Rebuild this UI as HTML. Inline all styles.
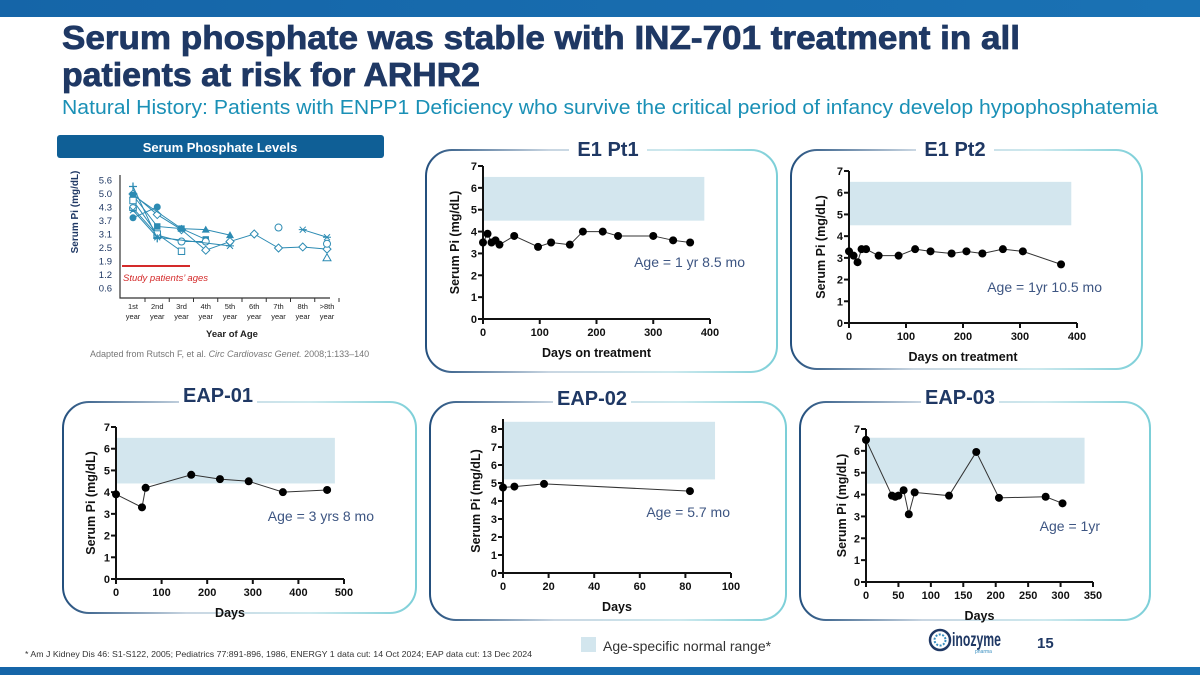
<!DOCTYPE html>
<html><head><meta charset="utf-8"><style>
html,body{margin:0;padding:0;background:#fff;}
svg{display:block;font-family:"Liberation Sans",sans-serif;}
</style></head><body>
<svg id="s" width="1200" height="675" viewBox="0 0 1200 675" xmlns="http://www.w3.org/2000/svg">
<defs>
<linearGradient id="cg" x1="0" y1="0" x2="1" y2="0"><stop offset="0" stop-color="#24507e"/><stop offset="0.35" stop-color="#c9d6e2"/><stop offset="0.7" stop-color="#cde9ee"/><stop offset="1" stop-color="#7ccfd8"/></linearGradient>
<linearGradient id="bar" x1="0" y1="0" x2="1" y2="0"><stop offset="0" stop-color="#1565a8"/><stop offset="1" stop-color="#1a72b4"/></linearGradient>
</defs>
<rect x="0" y="0" width="1200" height="17" fill="url(#bar)"/>
<rect x="0" y="667" width="1200" height="8" fill="url(#bar)"/>
<text x="62" y="49" font-size="33" font-weight="bold" fill="#1f3864" stroke="#1f3864" stroke-width="0.8" textLength="958" lengthAdjust="spacingAndGlyphs">Serum phosphate was stable with INZ-701 treatment in all</text>
<text x="62" y="86" font-size="33" font-weight="bold" fill="#1f3864" stroke="#1f3864" stroke-width="0.8" textLength="418" lengthAdjust="spacingAndGlyphs">patients at risk for ARHR2</text>
<text x="62" y="114" font-size="20" fill="#1a90b6" textLength="1096" lengthAdjust="spacingAndGlyphs">Natural History: Patients with ENPP1 Deficiency who survive the critical period of infancy develop hypophosphatemia</text>
<rect x="57" y="135" width="327" height="23" rx="3" fill="#0f5f96"/>
<text x="220" y="152" font-size="13" font-weight="bold" fill="#fff" text-anchor="middle">Serum Phosphate Levels</text>
<g id="nh"></g>
<text x="90" y="357" font-size="9" fill="#777">Adapted from Rutsch F, et al. <tspan font-style="italic">Circ Cardiovasc Genet.</tspan> 2008;1:133–140</text>
<g id="charts"></g>
<rect x="581" y="637" width="15" height="15" fill="#d3e6ee"/>
<text x="603" y="651" font-size="14" fill="#333">Age-specific normal range*</text>
<g>
<circle cx="940" cy="640" r="10" fill="#fff" stroke="#1f3864" stroke-width="2.5"/>
<circle cx="940" cy="640" r="5.5" fill="none" stroke="#3a8fc0" stroke-width="2" stroke-dasharray="2 1.5"/>
<text x="952" y="646" font-size="19" font-weight="bold" fill="#1f3864" textLength="49" lengthAdjust="spacingAndGlyphs">inozyme</text>
<text x="975" y="653" font-size="5" fill="#3a8fc0">pharma</text>
</g>
<text x="1037" y="648" font-size="15" font-weight="bold" fill="#1f3864">15</text>
<text x="25" y="657" font-size="8.5" fill="#333" textLength="507" lengthAdjust="spacingAndGlyphs">* Am J Kidney Dis 46: S1-S122, 2005; Pediatrics 77:891-896, 1986, ENERGY 1 data cut: 14 Oct 2024; EAP data cut: 13 Dec 2024</text>
</svg>
<script>
// ---- Natural history data ----
const nhCategories = ["1st","2nd","3rd","4th","5th","6th","7th","8th",">8th"];
const nhTicks = [5.6,5.0,4.3,3.7,3.1,2.5,1.9,1.2,0.6];
const nhDiamondX = [0,1,2,3,4,5,6,7,8];
const nhDiamondY = [4.95,4.0,3.3,2.35,2.75,3.1,2.45,2.5,2.4];
const nhFilledCircleX = [0,1];
const nhFilledCircleY = [3.85,4.35];
const nhFilledSquareX = [0,1,2,3];
const nhFilledSquareY = [4.9,3.45,3.35,2.85];
const nhFilledTriX = [0,2,3,4];
const nhFilledTriY = [4.9,3.35,3.3,3.05];
const nhOpenCircleX = [0,1,2,3];
const nhOpenCircleY = [4.3,3.05,2.75,2.75];
const nhOpenSquareX = [0,1,2];
const nhOpenSquareY = [4.65,3.1,2.3];
const nhStarX = [0,1,4];
const nhStarY = [4.2,2.95,2.55];
const nhStar2X = [7,8];
const nhStar2Y = [3.3,2.95];
const nhPlusX = [0,1];
const nhPlusY = [5.3,2.9];
const nhSoloCircleX = [6,8];
const nhSoloCircleY = [3.4,2.65];
const nhOpenTriX = [8];
const nhOpenTriY = [2.0];

// ---- Patient chart data ----
const e1p1Days = [0,8,15,22,29,55,97,120,153,176,211,238,300,335,365];
const e1p1Vals = [3.5,3.9,3.5,3.6,3.4,3.8,3.3,3.5,3.4,4.0,4.0,3.8,3.8,3.6,3.5];
const e1p1Range = [4.5,6.5,390];
const e1p2Days = [0,8,15,22,30,52,87,116,143,180,206,234,270,305,372];
const e1p2Vals = [3.3,3.1,2.8,3.4,3.4,3.1,3.1,3.4,3.3,3.2,3.3,3.2,3.4,3.3,2.7];
const e1p2Range = [4.5,6.5,390];
const eap1Days = [0,57,65,165,228,291,366,463];
const eap1Vals = [3.9,3.3,4.2,4.8,4.6,4.5,4.0,4.1];
const eap1Range = [4.4,6.5,480];
const eap2Days = [0,5,18,82];
const eap2Vals = [4.75,4.8,4.95,4.55];
const eap2Range = [5.2,8.4,93];
const eap3Days = [0,40,45,50,58,66,75,128,170,205,277,303];
const eap3Vals = [6.5,3.95,3.9,3.95,4.2,3.1,4.1,3.95,5.95,3.85,3.9,3.6];
const eap3Range = [4.5,6.6,337];

const NS = "http://www.w3.org/2000/svg";
function mk(tag, attrs, parent){const e=document.createElementNS(NS,tag);for(const k in attrs)e.setAttribute(k,attrs[k]);parent.appendChild(e);return e;}

// ---- Natural history chart ----
(function(){
const g = document.getElementById('nh');
const x0=133, dx=24.25, yTop=180, yBot=288;
const sx = i => x0 + i*dx;
const sy = v => yTop + (5.6 - v) / 5.0 * (yBot - yTop);
const C = "#2c8bb3";
let ax = mk('path',{d:'M120 175 V298 H330',stroke:'#333','stroke-width':1.2,fill:'none'},g);


nhTicks.forEach((t,i)=>{
  const y = yTop + i*(yBot-yTop)/(nhTicks.length-1);
  const tx = mk('text',{x:112,y:y+3.5,'font-size':9.5,fill:'#1f3864','text-anchor':'end'},g);
  tx.textContent = t.toFixed(1);
  
  
});
nhCategories.forEach((c,i)=>{
  const x = sx(i);
  mk('line',{x1:x+12,y1:298,x2:x+12,y2:302,stroke:'#333'},g);
  const t1 = mk('text',{x:x,y:309,'font-size':7.5,fill:'#222','text-anchor':'middle'},g);
  t1.textContent = c;
  
  
  const t2 = mk('text',{x:x,y:319,'font-size':7.5,fill:'#222','text-anchor':'middle'},g);
  t2.textContent = 'year';
});
const yl = mk('text',{x:0,y:0,'font-size':10,'font-weight':'bold',fill:'#1f3864','text-anchor':'middle',transform:'translate(78,212) rotate(-90)'},g);
yl.textContent='Serum Pi (mg/dL)';


const xl = mk('text',{x:232,y:337,'font-size':9.5,'font-weight':'bold',fill:'#222','text-anchor':'middle'},g);
xl.textContent='Year of Age';


const rl = mk('line',{x1:122,y1:266,x2:190,y2:266,stroke:'#d42a2a','stroke-width':2},g);


const rt = mk('text',{x:123,y:281,'font-size':9.5,'font-style':'italic',fill:'#d42a2a'},g);
rt.textContent='Study patients’ ages';


function marker(type,x,y){
  let e;
  if(type==='diamond') e=mk('path',{d:`M${x} ${y-4}L${x+4} ${y}L${x} ${y+4}L${x-4} ${y}Z`,fill:'#fff',stroke:C},g);
  else if(type==='fcircle') e=mk('circle',{cx:x,cy:y,r:3.5,fill:C},g);
  else if(type==='ocircle') e=mk('circle',{cx:x,cy:y,r:3.5,fill:'#fff',stroke:C},g);
  else if(type==='fsquare') e=mk('rect',{x:x-3.2,y:y-3.2,width:6.4,height:6.4,fill:C},g);
  else if(type==='osquare') e=mk('rect',{x:x-3.2,y:y-3.2,width:6.4,height:6.4,fill:'#fff',stroke:C},g);
  else if(type==='ftri') e=mk('path',{d:`M${x} ${y-4}L${x+4} ${y+3}L${x-4} ${y+3}Z`,fill:C},g);
  else if(type==='otri') e=mk('path',{d:`M${x} ${y-4}L${x+4} ${y+3}L${x-4} ${y+3}Z`,fill:'#fff',stroke:C},g);
  else if(type==='star') e=mk('path',{d:`M${x-4} ${y}H${x+4}M${x-3} ${y-3}L${x+3} ${y+3}M${x+3} ${y-3}L${x-3} ${y+3}`,stroke:C},g);
  else e=mk('path',{d:`M${x-4} ${y}H${x+4}M${x} ${y-4}V${y+4}`,stroke:C,'stroke-width':1.3},g);
  
  
}
function series(xs,ys,type,line){
  if(line && xs.length>1){
    const p = mk('polyline',{points:xs.map((x,i)=>sx(x)+','+sy(ys[i])).join(' '),fill:'none',stroke:C,'stroke-width':1},g);
    
    
  }
  xs.forEach((x,i)=>marker(type,sx(x),sy(ys[i])));
}
series(nhDiamondX,nhDiamondY,'diamond',true);
series(nhFilledCircleX,nhFilledCircleY,'fcircle',true);
series(nhFilledSquareX,nhFilledSquareY,'fsquare',true);
series(nhFilledTriX,nhFilledTriY,'ftri',true);
series(nhOpenCircleX,nhOpenCircleY,'ocircle',true);
series(nhOpenSquareX,nhOpenSquareY,'osquare',true);
series(nhStarX,nhStarY,'star',true);
series(nhStar2X,nhStar2Y,'star',true);
series(nhPlusX,nhPlusY,'plus',true);
series(nhSoloCircleX,nhSoloCircleY,'ocircle',false);
series(nhOpenTriX,nhOpenTriY,'otri',false);
})();

// ---- Patient charts ----
function drawChart(o, days, vals, range){
  const root = document.getElementById('charts');
  const g = mk('g',{},root);
  
  
  const card = mk('rect',{x:o.card[0],y:o.card[1],width:o.card[2]-o.card[0],height:o.card[3]-o.card[1],rx:26,fill:'none',stroke:'url(#cg)','stroke-width':2},g);
  
  
  const tw = o.title.length*11;
  mk('rect',{x:o.tx-tw/2-6,y:o.ty-22,width:tw+12,height:28,fill:'#fff'},g);
  const t = mk('text',{x:o.tx,y:o.ty,'font-size':20,'font-weight':'bold',fill:'#1f3864','text-anchor':'middle'},g);
  t.textContent = o.title;
  
  
  const sx = d => o.x0 + d/o.xmax*(o.x1-o.x0);
  const sy = v => o.y0 - v/o.ymax*(o.y0-o.y1);
  const band = mk('rect',{x:sx(0),y:sy(range[1]),width:sx(range[2])-sx(0),height:sy(range[0])-sy(range[1]),fill:'#d3e6ee'},g);
  
  
  const axp = mk('path',{d:`M${o.x0} ${o.ytop} V${o.y0} H${o.x1}`,stroke:'#111','stroke-width':2,fill:'none'},g);
  
  
  for(let v=0; v<=o.ymax; v++){
    const y=sy(v);
    mk('line',{x1:o.x0-5,y1:y,x2:o.x0,y2:y,stroke:'#111','stroke-width':2},g);
    const l = mk('text',{x:o.x0-6,y:y+4,'font-size':11,'font-weight':'bold',fill:'#111','text-anchor':'end'},g);
    l.textContent=v;
    
    
  }
  for(let d=0; d<=o.xmax; d+=o.xstep){
    const x=sx(d);
    mk('line',{x1:x,y1:o.y0,x2:x,y2:o.y0+5,stroke:'#111','stroke-width':2},g);
    const l = mk('text',{x:x,y:o.y0+17,'font-size':11,'font-weight':'bold',fill:'#111','text-anchor':'middle'},g);
    l.textContent=d;
    
    
  }
  const yl = mk('text',{x:0,y:0,'font-size':12.5,'font-weight':'bold',fill:'#111','text-anchor':'middle',transform:`translate(${o.ylx},${(o.y0+o.y1)/2}) rotate(-90)`},g);
  yl.textContent='Serum Pi (mg/dL)';
  
  
  const xl = mk('text',{x:(o.x0+o.x1)/2,y:o.y0+38,'font-size':12.5,'font-weight':'bold',fill:'#111','text-anchor':'middle'},g);
  xl.textContent=o.xlabel;
  
  
  const line = mk('polyline',{points:days.map((d,i)=>sx(d)+','+sy(vals[i])).join(' '),fill:'none',stroke:'#333','stroke-width':1},g);
  
  
  days.forEach((d,i)=>{
    const c = mk('circle',{cx:sx(d),cy:sy(vals[i]),r:4,fill:'#000'},g);
    
    
  });
  const a = mk('text',{x:o.ax,y:o.ay,'font-size':14,fill:'#3d5582','text-anchor':'end'},g);
  a.textContent=o.age;
  
  
}
drawChart({name:'e1-pt1-chart',title:'E1 Pt1',tx:608,ty:156,card:[426,150,777,372],x0:483,x1:710,y0:319,y1:166,ytop:166,ymax:7,xmax:400,xstep:100,ylx:459,xlabel:'Days on treatment',age:'Age = 1 yr 8.5 mo',ax:745,ay:267},e1p1Days,e1p1Vals,e1p1Range);
drawChart({name:'e1-pt2-chart',title:'E1 Pt2',tx:955,ty:156,card:[791,150,1142,369],x0:849,x1:1077,y0:323,y1:171,ytop:171,ymax:7,xmax:400,xstep:100,ylx:825,xlabel:'Days on treatment',age:'Age = 1yr 10.5 mo',ax:1102,ay:292},e1p2Days,e1p2Vals,e1p2Range);
drawChart({name:'eap-01-chart',title:'EAP-01',tx:218,ty:402,card:[63,402,416,613],x0:116,x1:344,y0:579,y1:427,ytop:427,ymax:7,xmax:500,xstep:100,ylx:95,xlabel:'Days',age:'Age = 3 yrs 8 mo',ax:374,ay:521},eap1Days,eap1Vals,eap1Range);
drawChart({name:'eap-02-chart',title:'EAP-02',tx:592,ty:405,card:[430,402,786,620],x0:503,x1:731,y0:573,y1:429,ytop:419,ymax:8,xmax:100,xstep:20,ylx:480,xlabel:'Days',age:'Age = 5.7 mo',ax:730,ay:517},eap2Days,eap2Vals,eap2Range);
drawChart({name:'eap-03-chart',title:'EAP-03',tx:960,ty:404,card:[800,402,1150,620],x0:866,x1:1093,y0:582,y1:429,ytop:429,ymax:7,xmax:350,xstep:50,ylx:846,xlabel:'Days',age:'Age = 1yr',ax:1100,ay:531},eap3Days,eap3Vals,eap3Range);
</script>
</body></html>
